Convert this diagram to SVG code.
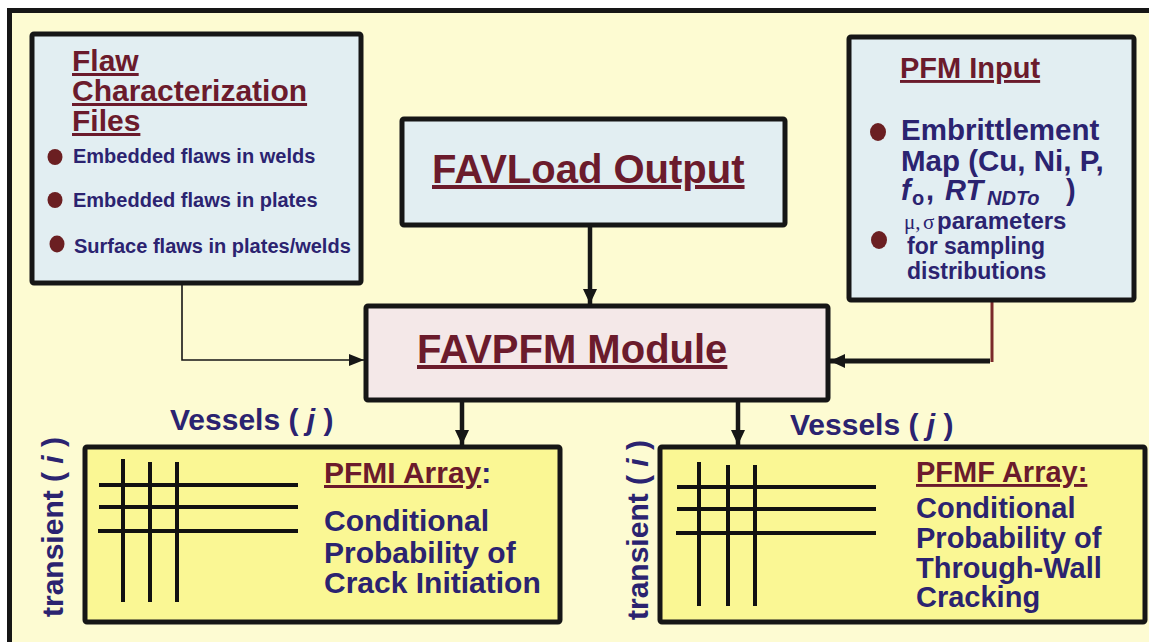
<svg xmlns="http://www.w3.org/2000/svg" width="1149" height="642" viewBox="0 0 1149 642">
<defs>
<style>
.t{font-family:"Liberation Sans",Arial,Helvetica,sans-serif;font-weight:bold;}
.title{fill:#6b1b2c;text-decoration:underline;}
.navy{fill:#2b2370;}
.box{stroke:#161616;stroke-width:5;}
.blue{fill:#e2eef2;}
.pink{fill:#f4e8e8;}
.yel{fill:#faf794;}
.grid line{stroke:#111;stroke-width:4;}
.bul{fill:#6b1f22;}
.conn{fill:none;stroke:#161616;}
.serif{font-family:"Liberation Serif","Times New Roman",serif;font-weight:normal;}
</style>
<marker id="ah" markerUnits="userSpaceOnUse" markerWidth="16" markerHeight="16" refX="15" refY="7" orient="auto">
<path d="M0,0 L15,7 L0,14 z" fill="#161616"/>
</marker>
<marker id="ahs" markerUnits="userSpaceOnUse" markerWidth="16" markerHeight="14" refX="15" refY="6" orient="auto">
<path d="M0,0 L15,6 L0,12 z" fill="#161616"/>
</marker>
</defs>
<rect x="0" y="0" width="1149" height="642" fill="#ffffff"/>
<rect x="9.5" y="10.5" width="1200" height="700" fill="#fdfbd2" stroke="#161616" stroke-width="5"/>

<g id="connectors">
<path class="conn" d="M590,227 V304" stroke-width="4.5" marker-end="url(#ah)"/>
<path class="conn" d="M462,402 V445" stroke-width="4.5" marker-end="url(#ah)"/>
<path class="conn" d="M738,402 V445" stroke-width="4.5" marker-end="url(#ah)"/>
<path class="conn" d="M182,285 V360 H364" stroke-width="1.6" marker-end="url(#ahs)"/>
<path d="M992,302 V362" fill="none" stroke="#7a2a2a" stroke-width="3"/>
<path class="conn" d="M990,361 H830" stroke-width="5" marker-end="url(#ah)"/>
</g>

<g id="flaw-files">
<rect class="box blue" x="32" y="34" width="329" height="249" rx="2"/>
<text class="t title" font-size="30" x="72" y="71">Flaw</text>
<text class="t title" font-size="30" x="72" y="101">Characterization</text>
<text class="t title" font-size="30" x="72" y="131">Files</text>
<ellipse class="bul" cx="55" cy="157" rx="7.5" ry="8"/>
<ellipse class="bul" cx="55" cy="200" rx="7.5" ry="8"/>
<ellipse class="bul" cx="57" cy="244" rx="7.5" ry="8.5"/>
<text class="t navy" font-size="20" x="73" y="163">Embedded flaws in welds</text>
<text class="t navy" font-size="20" x="73" y="207">Embedded flaws in plates</text>
<text class="t navy" font-size="20" x="74" y="253">Surface flaws in plates/welds</text>
</g>

<g id="favload-output">
<rect class="box blue" x="402" y="119" width="383" height="106" rx="2"/>
<text class="t title" font-size="40" x="432" y="183">FAVLoad Output</text>
</g>

<g id="pfm-input">
<rect class="box blue" x="849" y="37" width="285" height="263" rx="2"/>
<text class="t title" font-size="29" x="900" y="78">PFM Input</text>
<ellipse class="bul" cx="878" cy="132" rx="8" ry="9"/>
<text class="t navy" font-size="29.5" x="901" y="140">Embrittlement</text>
<text class="t navy" font-size="29.5" x="901" y="171">Map (Cu, Ni, P,</text>
<text class="t navy" font-size="29" y="200"><tspan x="901" font-style="italic">f</tspan><tspan x="912" y="205" font-size="20">o</tspan><tspan x="926" y="200">,</tspan><tspan x="945" font-style="italic">RT</tspan><tspan x="987" y="205" font-size="20" font-style="italic">NDTo</tspan><tspan x="1066" y="200">)</tspan></text>
<ellipse class="bul" cx="879" cy="240" rx="8" ry="9"/>
<text class="navy" y="229"><tspan class="serif" font-size="21" x="904">μ,</tspan><tspan class="serif" font-size="21" x="923">σ</tspan><tspan class="t" font-size="24" x="937">parameters</tspan></text>
<text class="t navy" font-size="23" x="907" y="254">for sampling</text>
<text class="t navy" font-size="23" x="907" y="279">distributions</text>
</g>

<g id="favpfm-module">
<rect class="box pink" x="366" y="306" width="462" height="94" rx="2"/>
<text class="t title" font-size="40" x="417" y="363">FAVPFM Module</text>
</g>

<g id="pfmi-array">
<text class="t navy" font-size="30" x="170" y="430">Vessels ( <tspan font-style="italic">j</tspan> )</text>
<text class="t navy" font-size="30" transform="translate(63,617) rotate(-90)">transient ( <tspan font-style="italic">i</tspan> )</text>
<rect class="box yel" x="85" y="447" width="475" height="175" rx="2"/>
<g class="grid">
<line x1="123" y1="459" x2="123" y2="602"/>
<line x1="150" y1="462" x2="150" y2="602"/>
<line x1="177" y1="462" x2="177" y2="602"/>
<line x1="99" y1="485" x2="298" y2="485"/>
<line x1="99" y1="507" x2="298" y2="507"/>
<line x1="98" y1="531" x2="298" y2="531"/>
</g>
<text class="t" font-size="30" x="324" y="483"><tspan class="title">PFMI Array</tspan><tspan class="navy">:</tspan></text>
<text class="t navy" font-size="30" x="324" y="531">Conditional</text>
<text class="t navy" font-size="30" x="324" y="563">Probability of</text>
<text class="t navy" font-size="30" x="324" y="593">Crack Initiation</text>
</g>

<g id="pfmf-array">
<text class="t navy" font-size="30" x="790" y="435">Vessels ( <tspan font-style="italic">j</tspan> )</text>
<text class="t navy" font-size="30" transform="translate(648,620) rotate(-90)">transient ( <tspan font-style="italic">i</tspan> )</text>
<rect class="box yel" x="660" y="447" width="485" height="175" rx="2"/>
<g class="grid">
<line x1="699" y1="462" x2="699" y2="606"/>
<line x1="728" y1="465" x2="728" y2="606"/>
<line x1="755" y1="465" x2="755" y2="606"/>
<line x1="677" y1="487" x2="876" y2="487"/>
<line x1="677" y1="509" x2="876" y2="509"/>
<line x1="676" y1="533" x2="876" y2="533"/>
</g>
<text class="t title" font-size="29" x="916" y="482">PFMF Array:</text>
<text class="t navy" font-size="29" x="916" y="518">Conditional</text>
<text class="t navy" font-size="29" x="916" y="548">Probability of</text>
<text class="t navy" font-size="29" x="916" y="578">Through-Wall</text>
<text class="t navy" font-size="29" x="916" y="607">Cracking</text>
</g>
</svg>
